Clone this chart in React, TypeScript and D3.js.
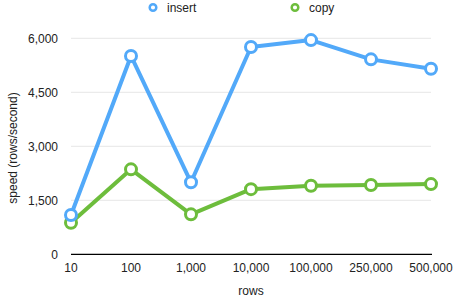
import React from "react";
import * as d3 from "d3";

const categories = ["10", "100", "1,000", "10,000", "100,000", "250,000", "500,000"];
const insertValues = [1090, 5510, 2000, 5760, 5950, 5415, 5155];
const copyValues = [875, 2360, 1110, 1810, 1905, 1925, 1950];
const yTicks = [0, 1500, 3000, 4500, 6000];
const seriesNames = ["insert", "copy"];

const W = 457;
const H = 297;
const BLUE = "#52a9f9";
const GREEN = "#6dbd3c";
const FONT = "'Liberation Sans', Helvetica, Arial, sans-serif";

export default function App() {
  const x = d3.scalePoint<string>().domain(categories).range([71, 431]);
  const y = d3.scaleLinear().domain([0, 6000]).range([254.3, 38.3]);
  const line = d3
    .line<number>()
    .x((_, i) => x(categories[i]) as number)
    .y((d) => y(d));
  const fmt = d3.format(",");
  const series = [
    { name: seriesNames[0], values: insertValues, color: BLUE },
    { name: seriesNames[1], values: copyValues, color: GREEN },
  ];
  const legendX = [153, 295];

  return (
    <svg
      width={W}
      height={H}
      style={{ position: "absolute", left: 0, top: 0, background: "#fff" }}
      fontFamily={FONT}
    >
      {yTicks
        .filter((t) => t > 0)
        .map((t) => (
          <line key={t} x1={71} x2={431} y1={y(t)} y2={y(t)} stroke="#e6e6e6" strokeWidth={1} />
        ))}
      <line x1={71} x2={432} y1={y(0)} y2={y(0)} stroke="#000" strokeWidth={1.3} />
      {yTicks.map((t) => (
        <text key={t} x={58} y={y(t)} dy="0.35em" textAnchor="end" fontSize={12} fill="#222">
          {fmt(t)}
        </text>
      ))}
      {categories.map((c) => (
        <text key={c} x={x(c)} y={268} dy="0.35em" textAnchor="middle" fontSize={12} fill="#222">
          {c}
        </text>
      ))}
      <text x={251} y={291} dy="0.35em" textAnchor="middle" fontSize={12} fill="#222">
        rows
      </text>
      <text
        transform={`translate(13,148) rotate(-90)`}
        dy="0.35em"
        textAnchor="middle"
        fontSize={12}
        fill="#222"
      >
        speed (rows/second)
      </text>
      {series.map((s, si) => (
        <g key={s.name}>
          <circle cx={legendX[si]} cy={7.5} r={3.3} fill="#fff" stroke={s.color} strokeWidth={2.5} />
          <text x={legendX[si] + 14} y={8} dy="0.35em" fontSize={12} fill="#222">
            {s.name}
          </text>
        </g>
      ))}
      {[series[1], series[0]].map((s) => (
        <g key={s.name}>
          <path d={line(s.values) || ""} fill="none" stroke={s.color} strokeWidth={4} strokeLinejoin="round" />
          {s.values.map((v, i) => (
            <circle
              key={i}
              cx={x(categories[i])}
              cy={y(v)}
              r={5.5}
              fill="#fff"
              stroke={s.color}
              strokeWidth={3}
            />
          ))}
        </g>
      ))}
    </svg>
  );
}
